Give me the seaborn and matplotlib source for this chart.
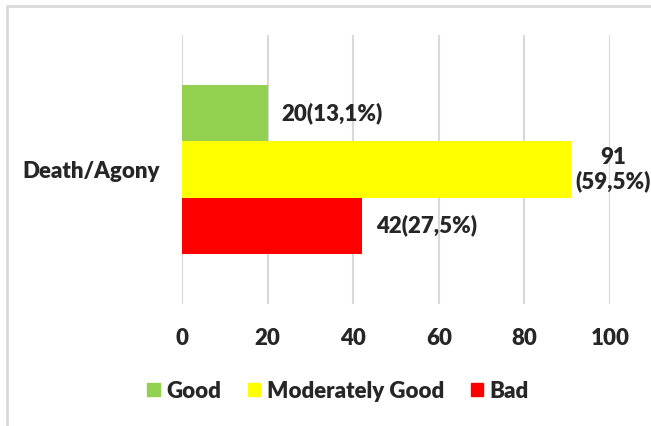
import matplotlib
matplotlib.use("Agg")
import matplotlib.pyplot as plt
import matplotlib.patches as mpatches
import seaborn as sns
import pandas as pd

categories = ["Death/Agony"]
series = ["Good", "Moderately Good", "Bad"]
values = [20, 91, 42]
labels = ["20(13,1%)", "91\n(59,5%)", "42(27,5%)"]
colors = ["#92D050", "#FFFF00", "#FF0000"]
x_ticks = [0, 20, 40, 60, 80, 100]

df = pd.DataFrame({"category": categories * len(series), "series": series, "value": values})

sns.set_style("white")
plt.rcParams["font.family"] = ["Lato", "DejaVu Sans"]
WT = 800
FS = 16

W, H = 651, 426
fig = plt.figure(figsize=(W / 100, H / 100), dpi=100)
ax = fig.add_axes([182 / W, 1 - 304 / H, (610 - 182) / W, (304 - 35) / H])

sns.barplot(data=df, x="value", y="category", hue="series", hue_order=series,
            palette=colors, orient="h", width=0.8, ax=ax, legend=False,
            saturation=1, edgecolor="none")

ax.set_xlim(0, 100)
ax.set_ylim(0.64, -0.64)
ax.set_xticks(x_ticks)
ax.set_xticklabels([str(t) for t in x_ticks], fontsize=FS, fontweight=WT)
ax.set_yticklabels(categories, fontsize=FS, fontweight=WT)
ax.tick_params(axis="x", length=0, pad=17)
ax.tick_params(axis="y", length=0, pad=16)
ax.set_xlabel("")
ax.set_ylabel("")
for s in ax.spines.values():
    s.set_visible(False)
ax.grid(axis="x", color="#d9d9d9", linewidth=1.5)
ax.set_axisbelow(True)

bars = sorted(ax.patches, key=lambda p: p.get_y())
for p, lab, v in zip(bars, labels, values):
    yc = p.get_y() + p.get_height() / 2
    if "\n" in lab:
        ax.annotate(lab, (p.get_width(), yc), xytext=(42, 0), textcoords="offset pixels",
                    ha="center", va="center", fontsize=FS, fontweight=WT,
                    linespacing=1.15, annotation_clip=False)
    else:
        ax.annotate(lab, (p.get_width(), yc), xytext=(14, 0), textcoords="offset pixels",
                    ha="left", va="center", fontsize=FS, fontweight=WT,
                    annotation_clip=False)

handles = [mpatches.Patch(color=c, label=s) for c, s in zip(colors, series)]
fig.legend(handles=handles, loc="center", bbox_to_anchor=(338 / W, 1 - 391 / H),
           ncol=3, frameon=False, handlelength=0.55, handleheight=0.55,
           handletextpad=0.3, columnspacing=1.2, prop={"weight": WT, "size": FS})

frame = mpatches.Rectangle((7 / W, -0.5), 2, (1 - 6 / H) + 0.5, transform=fig.transFigure,
                           fill=False, edgecolor="#d9d9d9", linewidth=2, clip_on=False)
fig.patches.append(frame)

fig.savefig("out.png", dpi=100, facecolor="white")
